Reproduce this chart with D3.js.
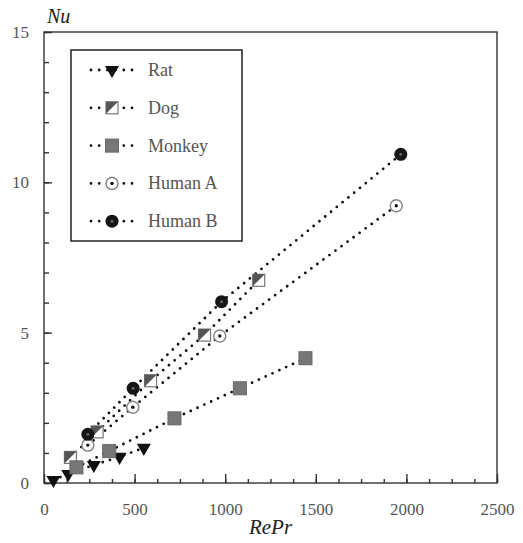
<!DOCTYPE html>
<html lang="en">
<head>
  <meta charset="UTF-8">
  <title>Nu vs RePr</title>
  <script src="https://d3js.org/d3.v7.min.js"></script>
  <style>
    body {
      margin: 0;
      background: #fff;
    }
    .axis path, .axis line { stroke: #333; stroke-width: 1.4; }
  </style>
</head>
<body>
  <svg width="523" height="543"></svg>
  <script>
    // series (RePr, Nu)
    const seriesNames = ["Rat", "Dog", "Monkey", "Human A", "Human B"];
    const ratX = [52, 134, 275, 417, 551];
    const ratY = [0.1, 0.3, 0.6, 0.87, 1.17];
    const dogX = [146, 293, 588, 886, 1185];
    const dogY = [0.85, 1.7, 3.4, 4.92, 6.74];
    const monkeyX = [179, 360, 720, 1081, 1443];
    const monkeyY = [0.52, 1.06, 2.15, 3.15, 4.15];
    const humanAX = [242, 490, 970, 1944];
    const humanAY = [1.26, 2.52, 4.89, 9.22];
    const humanBX = [242, 492, 980, 1969];
    const humanBY = [1.62, 3.15, 6.03, 10.93];

    const xTicks = [0, 500, 1000, 1500, 2000, 2500];
    const yTicks = [0, 5, 10, 15];

    const series = [
      {name: seriesNames[0], xs: ratX, ys: ratY, kind: "rat"},
      {name: seriesNames[1], xs: dogX, ys: dogY, kind: "dog"},
      {name: seriesNames[2], xs: monkeyX, ys: monkeyY, kind: "monkey"},
      {name: seriesNames[3], xs: humanAX, ys: humanAY, kind: "humanA"},
      {name: seriesNames[4], xs: humanBX, ys: humanBY, kind: "humanB"}
    ];

    const serif = "Liberation Serif";
    const margin = {top: 32, left: 44};

    const svg = d3.select("svg");
    const g = svg.append("g").attr("transform", `translate(${margin.left},${margin.top})`);

    const x = d3.scaleLinear().domain([0, 2500]).range([0, 453]);
    const y = d3.scaleLinear().domain([0, 15]).range([451, 0]);

    // minor ticks
    g.append("g").attr("class", "axis").attr("transform", "translate(0,451)")
      .call(d3.axisBottom(x).tickValues(d3.range(0, 2501, 125)).tickSize(-4).tickFormat(""))
      .select(".domain").remove();
    g.append("g").attr("class", "axis")
      .call(d3.axisLeft(y).tickValues(d3.range(0, 16, 1)).tickSize(-5).tickFormat(""))
      .select(".domain").remove();

    // major ticks + labels
    const xAxis = g.append("g").attr("class", "axis").attr("transform", "translate(0,451)")
      .call(d3.axisBottom(x).tickValues(xTicks).tickSize(-9).tickPadding(20).tickFormat(d3.format("d")));
    xAxis.select(".domain").remove();
    const yAxis = g.append("g").attr("class", "axis")
      .call(d3.axisLeft(y).tickValues(yTicks).tickSize(-8).tickPadding(15).tickFormat(d3.format("d")));
    yAxis.select(".domain").remove();
    g.selectAll(".axis text")
      .style("font-family", serif).style("font-size", "17px").style("fill", "#555");

    // frame
    g.append("rect").attr("x", x(0)).attr("y", y(15))
      .attr("width", x(2500) - x(0)).attr("height", y(0) - y(15))
      .attr("fill", "none").attr("stroke", "#333").attr("stroke-width", 1.4);

    // axis titles
    svg.append("text").attr("x", 47).attr("y", 23).style("font-family", serif)
      .style("font-style", "italic").style("font-size", "20px").attr("fill", "#222").text("Nu");
    svg.append("text").attr("x", margin.left + x(1250)).attr("y", 534).style("font-family", serif)
      .attr("text-anchor", "middle").style("font-style", "italic").style("font-size", "21px")
      .attr("fill", "#222").text("RePr");

    function drawMarker(sel, kind) {
      if (kind === "rat") {
        sel.append("path").attr("d", d3.symbol(d3.symbolTriangle, 85)())
          .attr("transform", "rotate(180)").attr("fill", "#111");
      } else if (kind === "dog") {
        sel.append("rect").attr("x", -6).attr("y", -6).attr("width", 12).attr("height", 12)
          .attr("fill", "#fff").attr("stroke", "#777").attr("stroke-width", 1.2);
        sel.append("path").attr("d", "M-6,-6L6,-6L-6,6Z").attr("fill", "#555");
      } else if (kind === "monkey") {
        sel.append("rect").attr("x", -6.5).attr("y", -6.5).attr("width", 13).attr("height", 13)
          .attr("fill", "#777").attr("stroke", "#666").attr("stroke-width", 1);
      } else if (kind === "humanA") {
        sel.append("circle").attr("r", 6).attr("fill", "#fff").attr("stroke", "#888").attr("stroke-width", 1.5);
        sel.append("circle").attr("r", 1.7).attr("fill", "#111");
      } else {
        sel.append("circle").attr("r", 6.5).attr("fill", "#151515");
        sel.append("circle").attr("r", 1.5).attr("fill", "#666");
      }
    }

    const line = d3.line().x(d => x(d[0])).y(d => y(d[1]));

    series.forEach(s => {
      const pts = s.xs.map((v, i) => [v, s.ys[i]]);
      g.append("path").datum(pts).attr("d", line)
        .attr("fill", "none").attr("stroke", "#111").attr("stroke-width", 2.8)
        .attr("stroke-linecap", "round").attr("stroke-dasharray", "0,7.5");
    });
    series.forEach(s => {
      const pts = s.xs.map((v, i) => [v, s.ys[i]]);
      g.selectAll(null).data(pts).enter().append("g")
        .attr("transform", d => `translate(${x(d[0])},${y(d[1])})`)
        .each(function() { drawMarker(d3.select(this), s.kind); });
    });

    // legend
    const legend = svg.append("g");
    legend.append("rect").attr("x", 71).attr("y", 50).attr("width", 171).attr("height", 191)
      .attr("fill", "#fff").attr("stroke", "#222").attr("stroke-width", 1.5);
    series.forEach((s, i) => {
      const ly = 70 + i * 37.8;
      legend.append("line").attr("x1", 91).attr("x2", 132).attr("y1", ly).attr("y2", ly)
        .attr("stroke", "#111").attr("stroke-width", 2.8).attr("stroke-linecap", "round")
        .attr("stroke-dasharray", "0,8.2");
      const m = legend.append("g").attr("transform", `translate(112,${ly})`);
      drawMarker(m, s.kind);
      legend.append("text").attr("x", 148).attr("y", ly + 6).style("font-family", serif)
        .style("font-size", "18px").attr("fill", "#555").text(s.name);
    });
  </script>
</body>
</html>
